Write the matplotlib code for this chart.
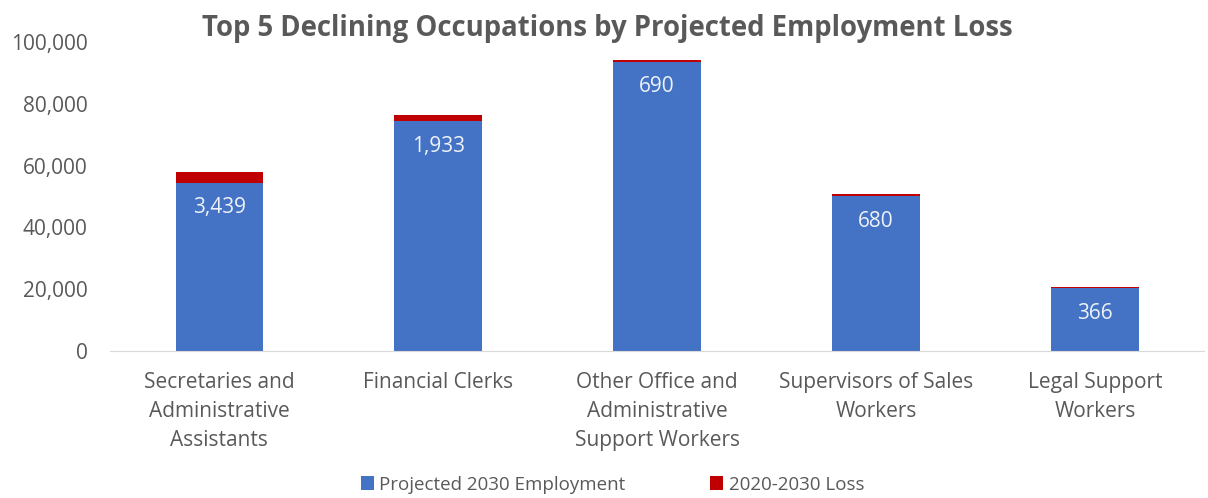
import matplotlib.pyplot as plt
from matplotlib.ticker import FuncFormatter

plt.rcParams['font.family'] = ['Open Sans', 'DejaVu Sans']

categories = ["Secretaries and\nAdministrative\nAssistants", "Financial Clerks",
              "Other Office and\nAdministrative\nSupport Workers",
              "Supervisors of Sales\nWorkers", "Legal Support\nWorkers"]
projected_2030 = [54500, 74300, 93500, 50000, 20400]
loss_2020_2030 = [3439, 1933, 690, 680, 366]

blue = '#4472C4'
red = '#C00000'
grey = '#595959'

fig = plt.figure(figsize=(12.08, 4.98), dpi=100)
ax = fig.add_axes([0.091, 0.295, 0.906, 0.621])

x = range(len(categories))
ax.bar(x, projected_2030, 0.4, color=blue, label='Projected 2030 Employment')
ax.bar(x, loss_2020_2030, 0.4, bottom=projected_2030, color=red, label='2020-2030 Loss')

# loss value written inside top of blue bar
for i, (p, l) in enumerate(zip(projected_2030, loss_2020_2030)):
    ax.annotate(f"{l:,}", (i, p), xytext=(0, -18), textcoords='offset points',
                ha='center', va='center', color='#EEF2F8', fontsize=15)

ax.set_xlim(-0.5, len(categories) - 0.5)
ax.set_ylim(0, 100000)
ax.set_yticks(range(0, 100001, 20000))
ax.yaxis.set_major_formatter(FuncFormatter(lambda v, _: f"{int(v):,}"))
ax.set_xticks(list(x))
ax.set_xticklabels(categories, linespacing=1.5)
ax.tick_params(axis='both', length=0, colors=grey, labelsize=15)
ax.tick_params(axis='y', pad=16)
ax.tick_params(axis='x', pad=15)
for s in ['top', 'right', 'left']:
    ax.spines[s].set_visible(False)
ax.spines['bottom'].set_color('#D9D9D9')

fig.suptitle("Top 5 Declining Occupations by Projected Employment Loss",
             x=0.503, y=0.972, fontsize=19.8, fontweight='bold', color=grey)

fig.legend(loc='lower center', bbox_to_anchor=(0.507, -0.025), ncol=2, frameon=False,
           fontsize=13.5, labelcolor=grey, handlelength=0.7, handleheight=0.7,
           handletextpad=0.3, columnspacing=4.5)

fig.savefig("out.png", dpi=100)
